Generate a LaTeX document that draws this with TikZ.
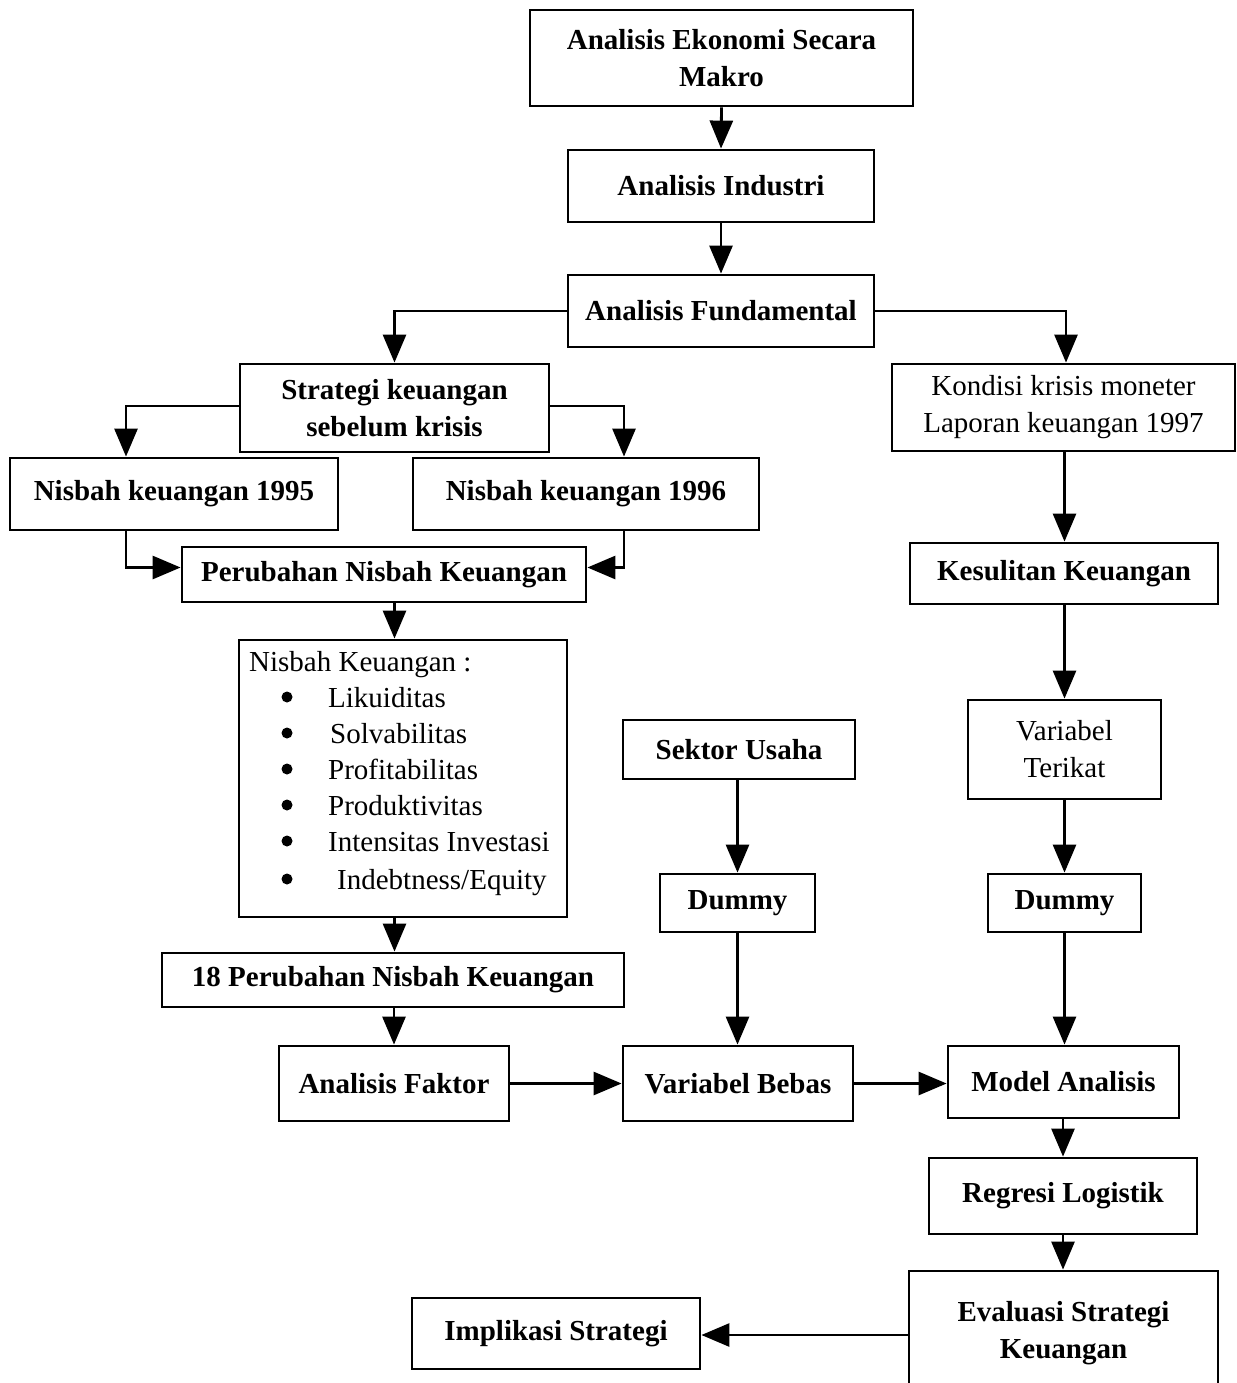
\documentclass[tikz,border=0pt]{standalone}
\usepackage{fontspec}
\setmainfont{Liberation Serif}
\usetikzlibrary{arrows.meta,calc}
\begin{document}
\begin{tikzpicture}[x=1pt,y=-1pt,
  box/.style={draw, line width=2.8pt, inner sep=0pt, align=center,
    font=\fontsize{29}{37}\selectfont\bfseries},
  plainbox/.style={box, font=\fontsize{29}{37}\selectfont},
  item/.style={inner sep=0pt, anchor=base west, font=\fontsize{29}{36}\selectfont},
  arr/.style={line width=2.8pt, -{Triangle[length=28pt,width=23pt]}}]
\clip (0,0) rectangle (1236,1383);
\fill[white] (0,0) rectangle (1236,1383);

\node[box, minimum width=383pt, minimum height=96pt] (b1) at (721.5,58) {Analisis Ekonomi Secara\\Makro};
\node[box, minimum width=306pt, minimum height=72pt] (b2) at (721,186) {Analisis Industri};
\node[box, minimum width=306pt, minimum height=72pt] (b3) at (721,311) {Analisis Fundamental};
\node[box, minimum width=309pt, minimum height=88pt] (b4) at (394.5,408) {Strategi keuangan\\sebelum krisis};
\node[plainbox, minimum width=343pt, minimum height=87pt] (b5) at (1063.5,407.5) {Kondisi krisis moneter\\Laporan keuangan 1997};
\node[box, minimum width=328pt, minimum height=72pt] (b6) at (174,494) {Nisbah keuangan 1995};
\node[box, minimum width=346pt, minimum height=72pt] (b7) at (586,494) {Nisbah keuangan 1996};
\node[box, minimum width=404pt, minimum height=55pt] (b8) at (384,574.5) {Perubahan Nisbah Keuangan};
\node[box, minimum width=308pt, minimum height=61pt] (b9) at (1064,573.5) {Kesulitan Keuangan};
\node[box, minimum width=328pt, minimum height=277pt] (b10) at (403,778.5) {};
\node[box, minimum width=232pt, minimum height=59pt] (b11) at (739,749.5) {Sektor Usaha};
\node[plainbox, minimum width=193pt, minimum height=99pt] (b12) at (1064.5,749.5) {Variabel\\Terikat};
\node[box, minimum width=155pt, minimum height=58pt] (b13) at (737.5,903) {Dummy};
\node[box, minimum width=153pt, minimum height=58pt] (b14) at (1064.5,903) {Dummy};
\node[box, minimum width=462pt, minimum height=54pt] (b15) at (393,980) {18 Perubahan Nisbah Keuangan};
\node[box, minimum width=230pt, minimum height=75pt] (b16) at (394,1083.5) {Analisis Faktor};
\node[box, minimum width=230pt, minimum height=75pt] (b17) at (738,1083.5) {Variabel Bebas};
\node[box, minimum width=231pt, minimum height=72pt] (b18) at (1063.5,1082) {Model Analisis};
\node[box, minimum width=268pt, minimum height=76pt] (b19) at (1063,1196) {Regresi Logistik};
\node[box, minimum width=309pt, minimum height=124pt] (b20) at (1063.5,1333) {Evaluasi Strategi\\Keuangan};
\node[box, minimum width=288pt, minimum height=71pt] (b21) at (556,1333.5) {Implikasi Strategi};

% list inside b10
\node[item] (lh) at (249,671) {Nisbah Keuangan :};
\node[item] (l1) at (328,707) {Likuiditas};
\node[item] (l2) at (330,743) {Solvabilitas};
\node[item] (l3) at (328,779) {Profitabilitas};
\node[item] (l4) at (328,815) {Produktivitas};
\node[item] (l5) at (328,851) {Intensitas Investasi};
\node[item] (l6) at (337,889) {Indebtness/Equity};
\foreach \yy in {697,733,769,805,841,879}
  \fill (287,\yy) circle (5.5);

% connectors
\draw[arr] (b1.south) -- (b2.north);
\draw[arr] (b2.south) -- (b3.north);
\draw[arr] (b3.west) -| (b4.north);
\draw[arr] (b3.east) -| ([xshift=2.5pt]b5.north);
\draw[arr] ([yshift=2pt]b4.west) -| ([xshift=-48pt]b6.north);
\draw[arr] ([yshift=2pt]b4.east) -| ([xshift=38pt]b7.north);
\draw[arr] ([xshift=-48pt]b6.south) |- ([yshift=7pt]b8.west);
\draw[arr] ([xshift=38pt]b7.south) |- ([yshift=7pt]b8.east);
\draw[arr] (b8.south -| b4.south) -- (b10.north -| b4.south);
\draw[arr] (b10.south -| b4.south) -- (b15.north -| b4.south);
\draw[arr] (b15.south -| b16.south) -- (b16.north);
\draw[arr] (b16.east) -- (b17.west);
\draw[arr] (b17.east) -- (b17.east -| b18.west);
\draw[arr] (b5.south -| b12.north) -- (b9.north -| b12.north);
\draw[arr] (b9.south -| b12.north) -- (b12.north);
\draw[arr] (b12.south) -- (b12.south |- b14.north);
\draw[arr] (b14.south) -- (b14.south |- b18.north);
\draw[arr] (b11.south -| b13.north) -- (b13.north);
\draw[arr] (b13.south) -- (b13.south |- b17.north);
\draw[arr] (b18.south -| b19.north) -- (b19.north);
\draw[arr] (b19.south) -- (b19.south |- b20.north);
\draw[arr] ([yshift=-2pt]b20.west) -- ([yshift=-2pt]b20.west -| b21.east);
\end{tikzpicture}
\end{document}
